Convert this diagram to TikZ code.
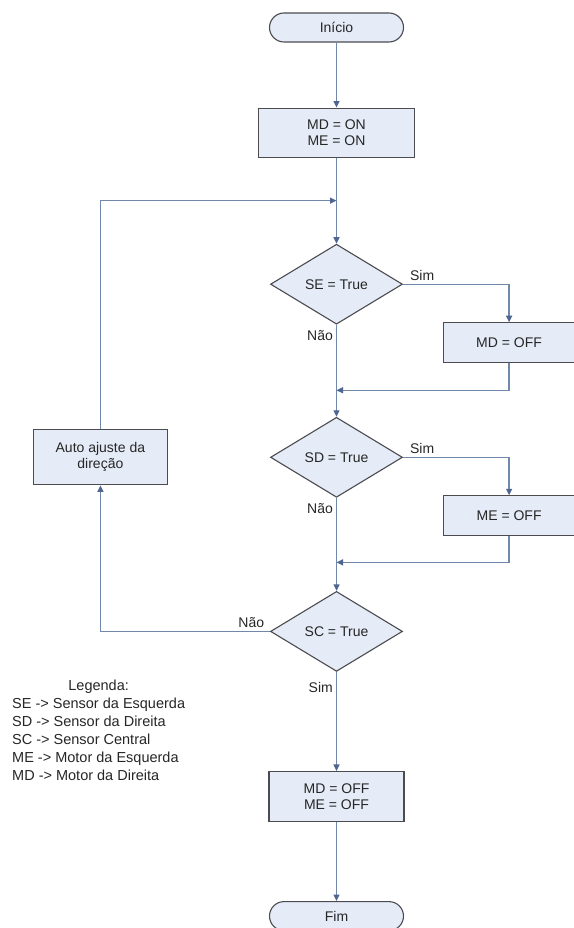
\documentclass[tikz,border=0pt]{standalone}
\usepackage{fontspec}
\setmainfont{Liberation Sans}
\usetikzlibrary{positioning,arrows.meta,shapes.geometric}
\definecolor{boxfill}{RGB}{229,236,247}
\definecolor{boxline}{RGB}{75,75,80}
\definecolor{flowcol}{RGB}{112,136,170}
\definecolor{tipcol}{RGB}{78,102,145}
\tikzset{
  term/.style={draw=boxline,fill=boxfill,line width=1.1pt,rounded corners=14.5pt,minimum width=134pt,minimum height=29pt,inner sep=0pt},
  proc/.style={draw=boxline,fill=boxfill,line width=1.1pt,align=center,inner sep=0pt},
  dec/.style={draw=boxline,fill=boxfill,line width=1.1pt,diamond,minimum width=132pt,minimum height=80pt,inner sep=0pt},
  flow/.style={draw=flowcol,line width=1.3pt},
  lbl/.style={inner sep=3pt},
}

\begin{document}
\begin{tikzpicture}[x=1pt,y=1pt,>={Triangle[length=6.5pt,width=6pt,color=tipcol]},font=\fontsize{14}{16}\selectfont,text=black!85]
  \useasboundingbox (0,0) rectangle (573,-928);
  \node[term] (inicio) at (336.5,-27.5) {Início};
  \node[proc,minimum width=156pt,minimum height=49pt,below=65pt of inicio] (ligar) {MD = ON\\ME = ON};
  \node[dec,below=86pt of ligar] (se) {SE = True};
  \node[proc,minimum width=131pt,minimum height=40pt,below right=38pt and 40pt of se.east] (mdoff) {MD = OFF};
  \node[dec,below=92pt of se] (sd) {SD = True};
  \node[proc,minimum width=131pt,minimum height=40pt,below right=38pt and 40pt of sd.east] (meoff) {ME = OFF};
  \node[dec,below=93pt of sd] (sc) {SC = True};
  \node[proc,minimum width=134pt,minimum height=55pt,left=102pt of sd] (ajuste) {Auto ajuste da\\direção};
  \node[proc,minimum width=135pt,minimum height=50pt,below=99pt of sc] (desligar) {MD = OFF\\ME = OFF};
  \node[term,below=79pt of desligar] (fim) {Fim};
  % pontos de junção na linha principal
  \coordinate[below=43pt of ligar.south] (j1);
  \coordinate[below=27pt of mdoff.south] (j2);
  \coordinate[below=26pt of meoff.south] (j3);
  \draw[flow,->] (inicio) -- (ligar);
  \draw[flow,->] (ligar) -- (se);
  \draw[flow,->] (ajuste) |- (j1);
  \draw[flow,->] (se.east) -| node[lbl,pos=0.09,above]{Sim} (mdoff.north);
  \draw[flow,->] (se) -- node[lbl,pos=0.12,left]{Não} (sd);
  \draw[flow,->] (mdoff.south) |- (j2 -| se.south);
  \draw[flow,->] (sd.east) -| node[lbl,pos=0.09,above]{Sim} (meoff.north);
  \draw[flow,->] (sd) -- node[lbl,pos=0.12,left]{Não} (sc);
  \draw[flow,->] (meoff.south) |- (j3 -| sd.south);
  \draw[flow,->] (sc.west) -| node[lbl,pos=0.055,above]{Não} (ajuste.south);
  \draw[flow,->] (sc) -- node[lbl,pos=0.16,left]{Sim} (desligar);
  \draw[flow,->] (desligar) -- (fim);
  % legenda
  \node[anchor=north west,align=left,inner sep=0pt,font=\fontsize{14.5}{18}\selectfont] (legtxt) at (12,-698)
    {SE -> Sensor da Esquerda\\SD -> Sensor da Direita\\SC -> Sensor Central\\ME -> Motor da Esquerda\\MD -> Motor da Direita};
  \node[above=4pt of legtxt,inner sep=0pt,font=\fontsize{14.5}{18}\selectfont] (leg) {Legenda:};
\end{tikzpicture}
\end{document}
